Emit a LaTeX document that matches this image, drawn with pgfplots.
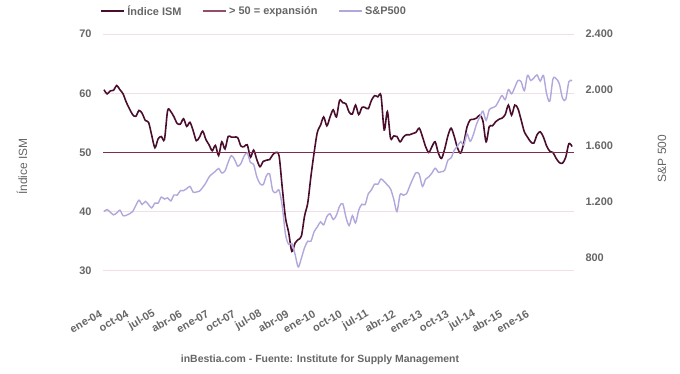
\documentclass[border=0pt]{standalone}
\usepackage{fontspec}
\setmainfont{Liberation Sans}
\usepackage{pgfplots}
\pgfplotsset{compat=1.18}
\definecolor{ismc}{HTML}{4A0D2C}
\definecolor{expc}{HTML}{7D2E4E}
\definecolor{spc}{HTML}{B2A7DD}
\definecolor{gridc}{HTML}{F2DEE6}
\definecolor{txtc}{HTML}{666666}
\pgfplotsset{
  common/.style={
    at={(103bp,103bp)}, anchor=south west, scale only axis,
    width=471bp, height=237bp,
    xmin=-0.3, xmax=147.6,
    axis line style={draw=none}, tick style={draw=none},
    ticklabel style={font=\fontsize{11}{13}\selectfont\bfseries, text=txtc},
    /pgf/number format/assume math mode=true,
    yticklabel shift=8bp,
  }
}
\begin{document}
\begin{tikzpicture}
\useasboundingbox (0bp,0bp) rectangle (680bp,374bp);
\begin{axis}[common,
  ymin=30, ymax=70,
  ytick={30,40,50,60,70},
  xtick={0,8.38,16.76,25.14,33.52,41.9,50.28,58.66,67.04,75.42,83.8,92.18,100.56,108.94,117.32,125.7,134.08},
  xticklabels={ene-04,oct-04,jul-05,abr-06,ene-07,oct-07,jul-08,abr-09,ene-10,oct-10,jul-11,abr-12,ene-13,oct-13,jul-14,abr-15,ene-16},
  ymajorgrids, major grid style={gridc, line width=1bp},
  xticklabel style={rotate=30, anchor=east},
  xticklabel shift=40bp,
  ylabel={Índice ISM},
  ylabel style={at={(axis description cs:-0.172,0.44)}, anchor=center, font=\fontsize{12}{14}\selectfont, text=txtc},
  legend style={at={(axis description cs:-0.0125,1.097)}, anchor=west, draw=none, fill=none,
    legend columns=3, font=\fontsize{11}{13}\selectfont\bfseries, text=txtc,
    /tikz/every even column/.append style={column sep=18bp},
    nodes={inner xsep=2.5bp}},
  legend image code/.code={\draw[#1] (0bp,0bp) -- (23bp,0bp);},
]
\addplot[ismc, line width=1.6bp, smooth, tension=0.5] table {
0 60.6
1 59.9
2 60.4
3 60.5
4 61.3
5 60.6
6 59.9
7 58.5
8 57.4
9 56.4
10 56.1
11 57.1
12 56.6
13 55.4
14 55.1
15 52.9
16 50.8
17 52.3
18 52.7
19 52.2
20 57.1
21 56.9
22 56.0
23 54.9
24 54.8
25 55.7
26 54.4
27 55.1
28 53.7
29 52.0
30 52.6
31 53.6
32 52.2
33 51.3
34 50.3
35 51.2
36 49.5
37 51.8
38 50.6
39 52.7
40 52.6
41 52.6
42 52.5
43 51.1
44 51.0
45 51.3
46 49.2
47 50.4
48 48.8
49 47.6
50 48.5
51 48.7
52 48.8
53 49.6
54 50.0
55 49.4
56 44.0
57 39.0
58 36.5
59 33.3
60 34.7
61 35.3
62 35.9
63 39.3
64 41.5
65 46.0
66 50.0
67 53.4
68 54.6
69 56.0
70 54.5
71 56.0
72 57.2
73 56.0
74 58.8
75 58.4
76 58.2
77 56.8
78 56.5
79 58.0
80 56.4
81 57.6
82 57.6
83 57.4
84 58.8
85 59.6
86 59.4
87 59.6
88 53.8
89 56.9
90 52.4
91 52.8
92 52.7
93 51.8
94 52.6
95 53.0
96 53.0
97 53.2
98 53.4
99 54.1
100 52.7
101 51.0
102 50.0
103 51.0
104 51.8
105 49.9
106 49.0
107 50.6
108 52.8
109 54.1
110 52.7
111 50.8
112 49.9
113 51.6
114 54.3
115 55.5
116 55.6
117 55.8
118 56.3
119 55.3
120 51.8
121 54.4
122 54.5
123 55.2
124 55.6
125 55.8
126 56.4
127 58.0
128 56.3
129 58.0
130 57.4
131 55.5
132 53.5
133 52.6
134 51.8
135 51.6
136 53.0
137 53.5
138 52.6
139 51.1
140 50.2
141 50.0
142 49.0
143 48.3
144 48.2
145 49.2
146 51.5
147 51.0
};
\addlegendentry{Índice ISM}
\addplot[expc, line width=1bp, forget plot] coordinates {(-0.3,50) (147.6,50)};
\addlegendimage{expc!85!white, line width=1.6bp}
\addlegendentry{> 50 = expansión}
\addlegendimage{spc, line width=1.6bp}
\addlegendentry{S\&P500}
\end{axis}
\begin{axis}[common,
  ymin=706, ymax=2400,
  axis y line*=right, axis x line=none,
  ytick={800,1200,1600,2000,2400},
  scaled y ticks=false,
  yticklabel style={/pgf/number format/.cd, 1000 sep={.}, assume math mode=true},
  ylabel={S\&P 500},
  ylabel style={at={(axis description cs:1.187,0.475)}, anchor=center, rotate=0, font=\fontsize{12}{14}\selectfont, text=txtc},
]
\addplot[spc, line width=1.4bp, smooth, tension=0.5] table {
0 1131.13
1 1144.94
2 1126.21
3 1107.30
4 1120.68
5 1140.84
6 1101.72
7 1104.24
8 1114.58
9 1130.20
10 1173.82
11 1211.92
12 1181.27
13 1203.60
14 1180.59
15 1156.85
16 1191.50
17 1191.33
18 1234.18
19 1220.33
20 1228.81
21 1207.01
22 1249.48
23 1248.29
24 1280.08
25 1280.66
26 1294.83
27 1310.61
28 1270.09
29 1270.20
30 1276.66
31 1303.82
32 1335.85
33 1377.94
34 1400.63
35 1418.30
36 1438.24
37 1406.82
38 1420.86
39 1482.37
40 1530.62
41 1503.35
42 1455.27
43 1473.99
44 1526.75
45 1549.38
46 1481.14
47 1468.36
48 1378.55
49 1330.63
50 1322.70
51 1385.59
52 1400.38
53 1280.00
54 1267.38
55 1282.83
56 1166.36
57 968.75
58 896.24
59 903.25
60 825.88
61 735.09
62 797.87
63 872.81
64 919.14
65 919.32
66 987.48
67 1020.62
68 1057.08
69 1036.19
70 1095.63
71 1115.10
72 1073.87
73 1104.49
74 1169.43
75 1186.69
76 1089.41
77 1030.71
78 1101.60
79 1049.33
80 1141.20
81 1183.26
82 1180.55
83 1257.64
84 1286.12
85 1327.22
86 1325.83
87 1363.61
88 1345.20
89 1320.64
90 1292.28
91 1218.89
92 1131.42
93 1253.30
94 1246.96
95 1257.60
96 1312.41
97 1365.68
98 1408.47
99 1397.91
100 1310.33
101 1362.16
102 1379.32
103 1406.58
104 1440.67
105 1412.16
106 1416.18
107 1426.19
108 1498.11
109 1514.68
110 1569.19
111 1597.57
112 1630.74
113 1606.28
114 1685.73
115 1632.97
116 1681.55
117 1756.54
118 1805.81
119 1848.36
120 1782.59
121 1859.45
122 1872.34
123 1883.95
124 1923.57
125 1960.23
126 1930.67
127 2003.37
128 1972.29
129 2018.05
130 2067.56
131 2058.90
132 1994.99
133 2104.50
134 2067.89
135 2085.51
136 2107.39
137 2063.11
138 2103.84
139 1972.18
140 1920.03
141 2079.36
142 2080.41
143 2043.94
144 1940.24
145 1932.23
146 2059.74
147 2065.30
};
\end{axis}
\node[font=\fontsize{10.5}{12}\selectfont\bfseries, text=txtc] at (320bp,14bp) {inBestia.com - Fuente: Institute for Supply Management};
\end{tikzpicture}
\end{document}
